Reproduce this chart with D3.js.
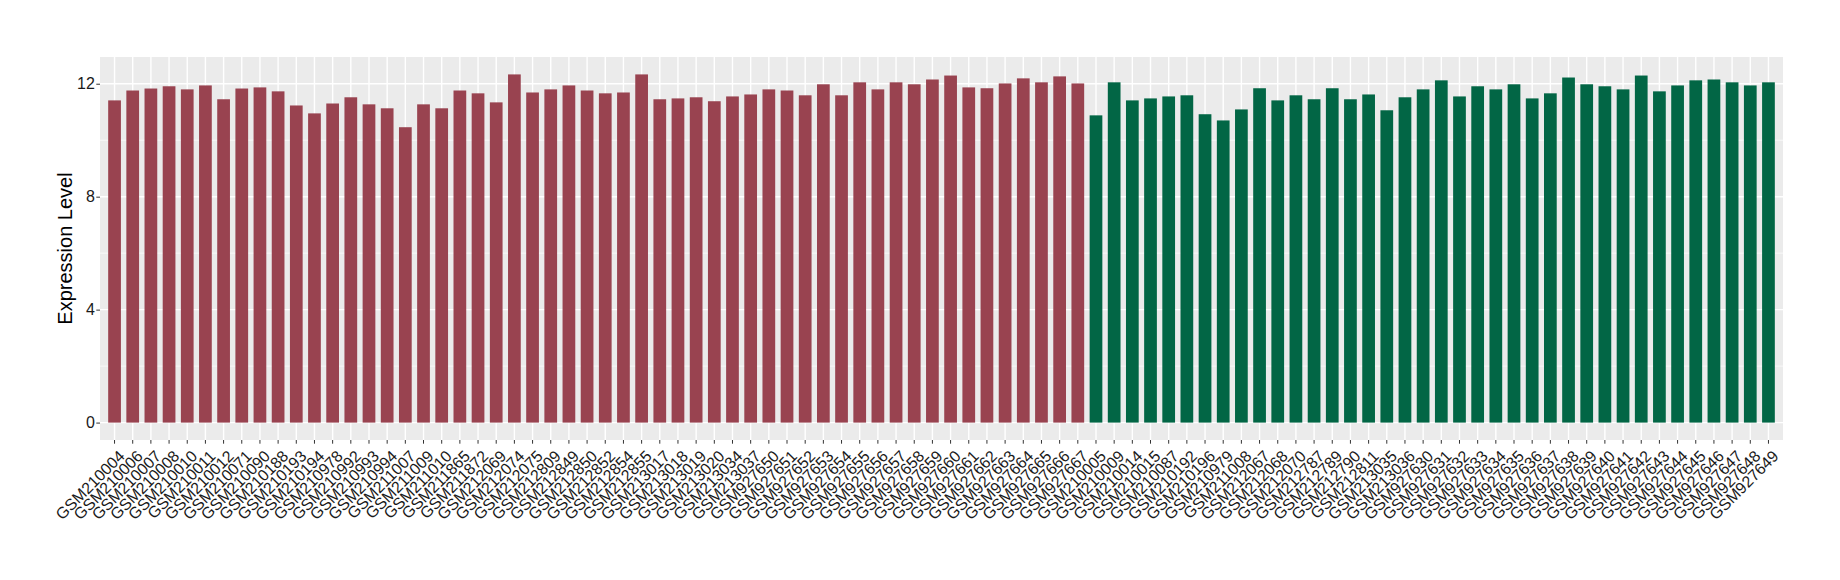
<!DOCTYPE html>
<html>
<head>
<meta charset="utf-8">
<script src="https://cdn.jsdelivr.net/npm/d3@7"></script>
<style>
  body { margin: 0; background: #fff; }
  svg text { font-family: "Liberation Sans", Arial, Helvetica, sans-serif; }
</style>
</head>
<body>
<svg id="chart" width="1840" height="580"></svg>
<script>
// samples of the first group (red)
var redSamples = ["GSM210004","GSM210006","GSM210007","GSM210008","GSM210010","GSM210011","GSM210012","GSM210071","GSM210090",
    "GSM210188","GSM210193","GSM210194","GSM210978","GSM210992","GSM210993","GSM210994","GSM211007","GSM211009","GSM211010",
    "GSM211865","GSM211872","GSM212069","GSM212074","GSM212075","GSM212809","GSM212849","GSM212850","GSM212852","GSM212854",
    "GSM212855","GSM213017","GSM213018","GSM213019","GSM213020","GSM213034","GSM213037","GSM927650","GSM927651","GSM927652",
    "GSM927653","GSM927654","GSM927655","GSM927656","GSM927657","GSM927658","GSM927659","GSM927660","GSM927661","GSM927662",
    "GSM927663","GSM927664","GSM927665","GSM927666","GSM927667"];
var redValues = [11.41,11.76,11.83,11.91,11.80,11.94,11.45,11.83,11.87,
    11.73,11.23,10.95,11.30,11.52,11.27,11.13,10.46,11.27,11.13,
    11.76,11.66,11.34,12.33,11.69,11.80,11.94,11.76,11.66,11.69,
    12.33,11.45,11.48,11.52,11.38,11.55,11.62,11.80,11.76,11.59,
    11.98,11.59,12.05,11.80,12.05,11.98,12.15,12.29,11.87,11.84,
    12.01,12.19,12.05,12.26,12.01];

// samples of the second group (green)
var greenSamples = ["GSM210005","GSM210009","GSM210014","GSM210015","GSM210087","GSM210192","GSM210196","GSM210979","GSM211008",
    "GSM212067","GSM212068","GSM212070","GSM212787","GSM212789","GSM212790","GSM212811","GSM213035","GSM213036","GSM927630",
    "GSM927631","GSM927632","GSM927633","GSM927634","GSM927635","GSM927636","GSM927637","GSM927638","GSM927639","GSM927640",
    "GSM927641","GSM927642","GSM927643","GSM927644","GSM927645","GSM927646","GSM927647","GSM927648","GSM927649"];
var greenValues = [10.88,12.05,11.41,11.48,11.55,11.59,10.92,10.70,11.09,
    11.84,11.41,11.59,11.45,11.84,11.45,11.62,11.06,11.52,11.80,
    12.12,11.55,11.91,11.80,11.98,11.48,11.66,12.22,11.98,11.91,
    11.80,12.29,11.73,11.94,12.12,12.15,12.05,11.94,12.05];

var yTicks = [0, 4, 8, 12];
var yMinor = [2, 6, 10];

var redColor = "#994350";
var greenColor = "#026645";

var rows = [];
redSamples.forEach(function(s, i){ rows.push({name: s, value: redValues[i], color: redColor}); });
greenSamples.forEach(function(s, i){ rows.push({name: s, value: greenValues[i], color: greenColor}); });

var svg = d3.select("#chart");
var panel = {left: 100, right: 1783, top: 57, bottom: 440};

var maxVal = d3.max(rows, function(d){ return d.value; });
var y = d3.scaleLinear()
    .domain([-maxVal * 0.05, maxVal * 1.05])
    .range([panel.bottom, panel.top]);

// ggplot style discrete axis: 0.6 unit padding each side
var x = d3.scaleBand()
    .domain(rows.map(function(d){ return d.name; }))
    .range([panel.left, panel.right])
    .paddingInner(0.3)
    .paddingOuter(0.6 - 0.15)
    .align(0.5);

// grey panel
svg.append("rect")
    .attr("x", panel.left)
    .attr("y", panel.top)
    .attr("width", panel.right - panel.left)
    .attr("height", panel.bottom - panel.top)
    .attr("fill", "#EBEBEB");

var grid = svg.append("g");
grid.selectAll("line.minor")
    .data(yMinor)
    .enter()
    .append("line")
    .attr("x1", panel.left).attr("x2", panel.right)
    .attr("y1", function(d){ return y(d); })
    .attr("y2", function(d){ return y(d); })
    .attr("stroke", "#fff")
    .attr("stroke-width", 0.7);
grid.selectAll("line.major")
    .data(yTicks)
    .enter()
    .append("line")
    .attr("x1", panel.left).attr("x2", panel.right)
    .attr("y1", function(d){ return y(d); })
    .attr("y2", function(d){ return y(d); })
    .attr("stroke", "#fff")
    .attr("stroke-width", 1.4);
grid.selectAll("line.vert")
    .data(rows)
    .enter()
    .append("line")
    .attr("x1", function(d){ return x(d.name) + x.bandwidth() / 2; })
    .attr("x2", function(d){ return x(d.name) + x.bandwidth() / 2; })
    .attr("y1", panel.top).attr("y2", panel.bottom)
    .attr("stroke", "#fff")
    .attr("stroke-width", 1.4);

// bars
svg.append("g").selectAll("rect")
    .data(rows)
    .enter()
    .append("rect")
    .attr("x", function(d){ return x(d.name); })
    .attr("width", x.bandwidth())
    .attr("y", function(d){ return y(d.value); })
    .attr("height", function(d){ return y(0) - y(d.value); })
    .attr("fill", function(d){ return d.color; });

// y axis
var yAxis = svg.append("g")
    .attr("transform", "translate(" + panel.left + ",0)")
    .call(d3.axisLeft(y).tickValues(yTicks).tickSize(3.7).tickPadding(1.5));
yAxis.select(".domain").remove();
yAxis.selectAll("line").attr("stroke", "#333").attr("stroke-width", 1);
yAxis.selectAll("text")
    .attr("fill", "#1a1a1a")
    .style("font-size", "16px");

// x axis with rotated labels
var xAxis = svg.append("g")
    .attr("transform", "translate(0," + panel.bottom + ")")
    .call(d3.axisBottom(x).tickSize(3.7).tickPadding(3));
xAxis.select(".domain").remove();
xAxis.selectAll("line").attr("stroke", "#333").attr("stroke-width", 1);
xAxis.selectAll("text")
    .attr("fill", "#1a1a1a")
    .style("font-size", "16px")
    .style("text-anchor", "end")
    .attr("y", 0)
    .attr("dy", "0.72em")
    .attr("transform", "translate(3,9) rotate(-45)");

// y title
svg.append("text")
    .attr("transform", "translate(" + 72 + "," + ((panel.top + panel.bottom) / 2) + ") rotate(-90)")
    .attr("text-anchor", "middle")
    .style("font-size", "20px")
    .attr("fill", "#000")
    .text("Expression Level");
</script>
</body>
</html>
